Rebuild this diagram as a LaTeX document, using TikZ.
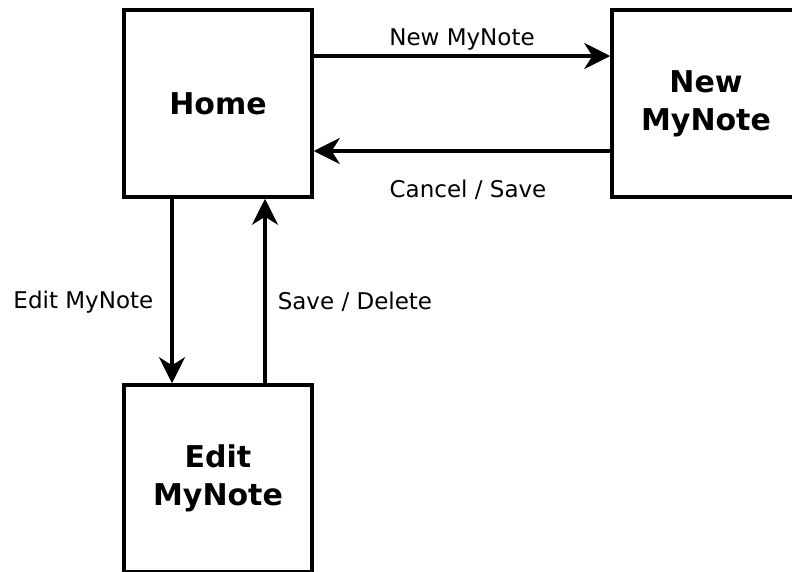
\documentclass[tikz,border=0pt]{standalone}
\usepackage{fontspec}
\setmainfont{DejaVu Sans}
\usetikzlibrary{arrows.meta}
\begin{document}
\begin{tikzpicture}[x=1pt,y=-1pt,
  screen/.style={draw, line width=3.5pt, minimum width=188pt, minimum height=187pt,
    inner sep=0pt, align=center, font=\fontsize{30}{38}\selectfont\bfseries},
  flow/.style={line width=3.5pt, -{Stealth[length=26pt,width=26pt,inset=8pt]}},
  tag/.style={font=\fontsize{23}{27}\selectfont, inner sep=0pt}]
  \useasboundingbox (0,0) rectangle (792,571);
  \clip (0,0) rectangle (792,571);
  \fill[white] (0,0) rectangle (792,571);

  % screens
  \node[screen] (home) at (218,103.5) {Home};
  \node[screen] (new)  at (706,103.5) {New\\MyNote};
  \node[screen] (edit) at (218,478.5) {Edit\\MyNote};

  % navigation between screens
  \draw[flow] ([yshift=47.5pt]home.east) -- node[tag, above=4pt] (lnew) {New MyNote} ([yshift=47.5pt]new.west);
  \draw[flow] ([yshift=-47.5pt]new.west) -- node[tag, below=27pt, xshift=6pt] (lcancel) {Cancel / Save} ([yshift=-47.5pt]home.east);
  \draw[flow] ([xshift=-46pt]home.south) -- node[tag, left=17pt, yshift=-11pt] (ledit) {Edit MyNote} ([xshift=-46pt]edit.north);
  \draw[flow] ([xshift=47pt]edit.north) -- node[tag, right=11pt, yshift=-11pt] (lsave) {Save / Delete} ([xshift=47pt]home.south);
\end{tikzpicture}
\end{document}
